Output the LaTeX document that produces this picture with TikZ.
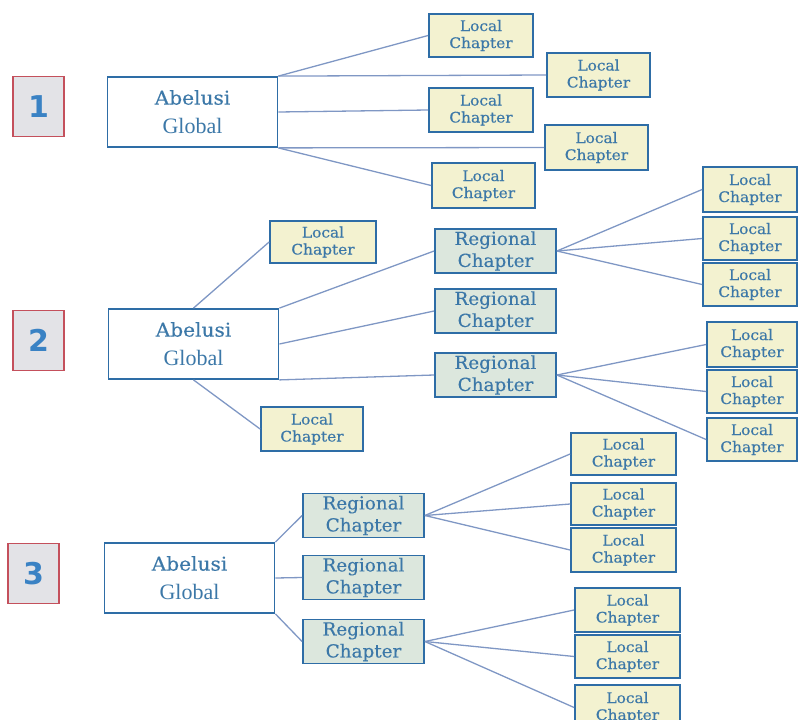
\documentclass[tikz,border=0pt]{standalone}
\usepackage{fontspec}
\newfontfamily\slabL[FakeStretch=1.06,FakeBold=0.3]{DejaVu Serif}
\newfontfamily\slabR[FakeStretch=1.02,FakeBold=0.3]{DejaVu Serif}
\newfontfamily\slabA[FakeStretch=1.06,FakeBold=0.4]{DejaVu Serif}
\newfontfamily\timesf{Liberation Serif}
\newfontfamily\numfont{DejaVu Sans}
\definecolor{bblue}{HTML}{2E6DA6}
\definecolor{tblue}{HTML}{3C78A8}
\definecolor{lblue}{HTML}{7F97C4}
\definecolor{lyellow}{HTML}{F3F2D0}
\definecolor{rgreen}{HTML}{DCE7DD}
\definecolor{ngrey}{HTML}{E3E3E7}
\definecolor{nred}{HTML}{C4505C}
\definecolor{nblue}{HTML}{3A82C4}
\tikzset{
  bx/.style={draw=bblue, line width=1.8pt, inner sep=0pt, align=center, text=tblue},
  local/.style={bx, fill=lyellow, font=\slabL\fontsize{14.5}{17}\selectfont},
  regional/.style={bx, fill=rgreen, font=\slabR\fontsize{18}{22}\selectfont, minimum width=121pt, minimum height=44pt},
  globalbox/.style={bx, fill=white, minimum width=170pt, minimum height=70pt, font=\fontsize{18}{29}\selectfont},
  numbox/.style={draw=nred, line width=1.5pt, fill=ngrey, inner sep=0pt, text=nblue, font=\numfont\bfseries\fontsize{30}{30}\selectfont, minimum width=51pt, minimum height=60pt},
  conn/.style={draw=lblue, line width=1.3pt}
}
\newcommand{\lc}{Local\\Chapter}
\newcommand{\rc}{Regional\\Chapter}
\newcommand{\ag}{{\slabA\fontsize{19}{29}\selectfont Abelusi}\\{\timesf\fontsize{22}{29}\selectfont Global}}
\begin{document}
\begin{tikzpicture}[x=1pt,y=-1pt]
\useasboundingbox (0,0) rectangle (798,720);
\clip (0,0) rectangle (798,720);
% ---------- Section 1
\node[numbox] (n1) at (38.5,106.5) {1};
\node[globalbox] (a1) at (192.5,112) {\ag};
\node[local, minimum width=104pt, minimum height=43pt] (s1a) at (481,35.5) {\lc};
\node[local, minimum width=103pt, minimum height=44pt] (s1b) at (598.5,75) {\lc};
\node[local, minimum width=104pt, minimum height=44pt] (s1c) at (481,110) {\lc};
\node[local, minimum width=103pt, minimum height=45pt] (s1d) at (596.5,147.5) {\lc};
\node[local, minimum width=103pt, minimum height=45pt] (s1e) at (483.5,185.5) {\lc};
\draw[conn] (a1.north east) -- (s1a.west);
\draw[conn] (a1.north east) -- (s1b.west);
\draw[conn] (a1.east) -- (s1c.west);
\draw[conn] (a1.south east) -- (s1d.west);
\draw[conn] (a1.south east) -- (s1e.west);
% ---------- Section 2
\node[numbox] (n2) at (38.5,340.5) {2};
\node[globalbox] (a2) at (193.5,344) {\ag};
\node[local, minimum width=106pt, minimum height=42pt] (s2u) at (323,242) {\lc};
\node[local, minimum width=102pt, minimum height=44pt] (s2d) at (312,429) {\lc};
\node[regional] (r21) at (495.5,251) {\rc};
\node[regional] (r22) at (495.5,311) {\rc};
\node[regional] (r23) at (495.5,375) {\rc};
\node[local, minimum width=94pt, minimum height=45pt] (s2a) at (750,189.5) {\lc};
\node[local, minimum width=94pt, minimum height=43pt] (s2b) at (750,238.5) {\lc};
\node[local, minimum width=94pt, minimum height=43pt] (s2c) at (750,284.5) {\lc};
\node[local, minimum width=90pt, minimum height=45pt] (s2e) at (752,344.5) {\lc};
\node[local, minimum width=90pt, minimum height=43pt] (s2f) at (752,391.5) {\lc};
\node[local, minimum width=90pt, minimum height=43pt] (s2g) at (752,439.5) {\lc};
\draw[conn] (a2.north) -- (s2u.west);
\draw[conn] (a2.south) -- (s2d.west);
\draw[conn] (a2.north east) -- (r21.west);
\draw[conn] (a2.east) -- (r22.west);
\draw[conn] (a2.south east) -- (r23.west);
\draw[conn] (r21.east) -- (s2a.west);
\draw[conn] (r21.east) -- (s2b.west);
\draw[conn] (r21.east) -- (s2c.west);
\draw[conn] (r23.east) -- (s2e.west);
\draw[conn] (r23.east) -- (s2f.west);
\draw[conn] (r23.east) -- (s2g.west);
% ---------- Section 3
\node[numbox] (n3) at (33.5,573.5) {3};
\node[globalbox] (a3) at (189.5,578) {\ag};
\node[regional] (r31) at (363.5,515.5) {\rc};
\node[regional] (r32) at (363.5,577.5) {\rc};
\node[regional] (r33) at (363.5,641.5) {\rc};
\node[local, minimum width=105pt, minimum height=42pt] (s3a) at (623.5,454) {\lc};
\node[local, minimum width=105pt, minimum height=42pt] (s3b) at (623.5,504) {\lc};
\node[local, minimum width=105pt, minimum height=44pt] (s3c) at (623.5,550) {\lc};
\node[local, minimum width=105pt, minimum height=44pt] (s3d) at (627.5,610) {\lc};
\node[local, minimum width=105pt, minimum height=43pt] (s3e) at (627.5,656.5) {\lc};
\node[local, minimum width=105pt, minimum height=45pt] (s3f) at (627.5,707.5) {\lc};
\draw[conn] (a3.north east) -- (r31.west);
\draw[conn] (a3.east) -- (r32.west);
\draw[conn] (a3.south east) -- (r33.west);
\draw[conn] (r31.east) -- (s3a.west);
\draw[conn] (r31.east) -- (s3b.west);
\draw[conn] (r31.east) -- (s3c.west);
\draw[conn] (r33.east) -- (s3d.west);
\draw[conn] (r33.east) -- (s3e.west);
\draw[conn] (r33.east) -- (s3f.west);
\end{tikzpicture}
\end{document}
